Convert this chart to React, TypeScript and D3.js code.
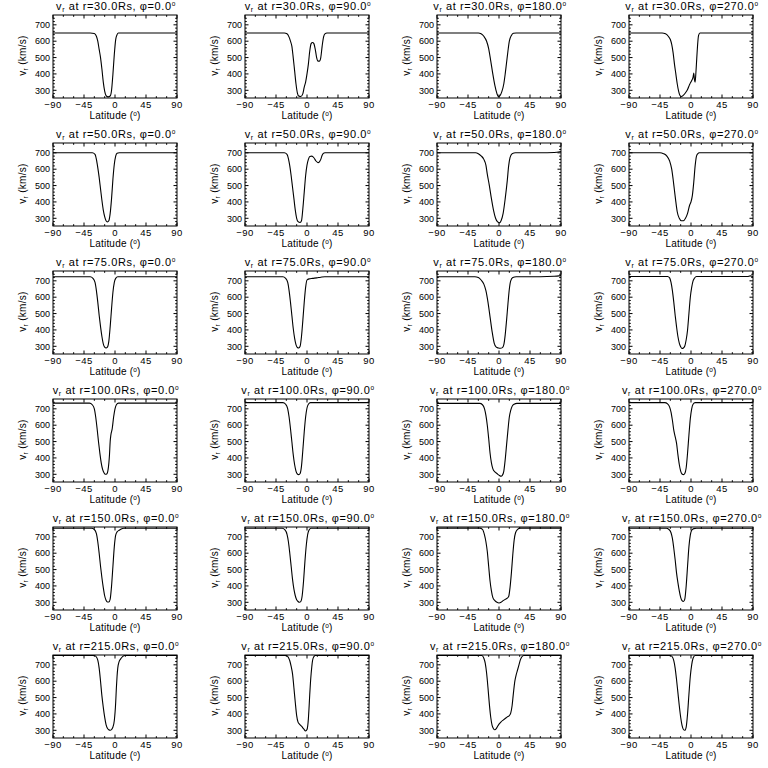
import React from "react";
import * as d3 from "d3";

type P = [number, number];

const radii = ["30.0", "50.0", "75.0", "100.0", "150.0", "215.0"];
const phis = ["0.0", "90.0", "180.0", "270.0"];
const xTicks = [-90, -45, 0, 45, 90];
const yTicks = [300, 400, 500, 600, 700];
const xMinor = [-75, -60, -30, -15, 15, 30, 60, 75];
const yMinor = [260, 280, 320, 340, 360, 380, 420, 440, 460, 480, 520, 540, 560, 580, 620, 640, 660, 680, 720, 740];
const xDomain: P = [-90, 90];
const yDomain: P = [253, 760];

// r = 30 Rs
const r30p0: P[] = [[-90,650],[-36,650],[-30,647],[-27,630],[-25,600],[-23,550],[-21,500],[-19,430],[-17,350],[-15,295],[-13,268],[-10,260],[-7,265],[-5,300],[-3,400],[-1,520],[1,610],[3,640],[5,650],[90,650]];
const r30p90: P[] = [[-90,650],[-33,650],[-29,645],[-26,625],[-24,600],[-22,570],[-20,500],[-18,420],[-16,340],[-14,285],[-12,265],[-9,262],[-6,280],[-4,320],[-2,350],[0,400],[2,460],[4,540],[6,585],[8,592],[10,585],[12,550],[14,500],[16,478],[18,478],[20,500],[22,570],[24,625],[26,645],[29,650],[90,650]];
const r30p180: P[] = [[-90,650],[-30,650],[-26,645],[-22,630],[-18,600],[-15,555],[-12,480],[-9,400],[-6,330],[-3,280],[-1,262],[1,265],[4,290],[7,340],[9,400],[11,470],[13,540],[15,600],[18,635],[21,648],[25,650],[90,650]];
const r30p270: P[] = [[-90,650],[-42,650],[-37,645],[-33,630],[-30,610],[-28,580],[-26,530],[-24,460],[-22,400],[-20,340],[-18,295],[-16,268],[-14,262],[-11,270],[-8,285],[-5,305],[-2,335],[1,360],[3,380],[4,405],[5,365],[6,350],[7,400],[8,470],[9,540],[10,600],[11,635],[13,650],[90,650]];

// r = 50 Rs
const r50p0: P[] = [[-90,700],[-33,700],[-29,690],[-27,660],[-25,610],[-23,550],[-21,480],[-19,410],[-17,350],[-15,310],[-13,285],[-11,278],[-9,285],[-7,330],[-5,420],[-3,540],[-1,630],[1,680],[3,697],[6,700],[90,700]];
const r50p90: P[] = [[-90,700],[-33,700],[-29,690],[-27,665],[-25,620],[-23,560],[-21,490],[-19,420],[-17,350],[-15,300],[-13,280],[-10,274],[-8,285],[-6,360],[-4,460],[-2,560],[0,625],[2,660],[4,678],[7,680],[10,670],[13,650],[16,640],[18,645],[20,660],[22,685],[24,698],[26,700],[90,700]];
const r50p180: P[] = [[-90,700],[-34,700],[-30,695],[-26,682],[-22,660],[-19,625],[-17,570],[-14,500],[-11,420],[-8,350],[-5,300],[-2,278],[1,272],[3,285],[6,330],[9,420],[12,530],[14,620],[16,670],[19,695],[24,700],[60,700],[80,702],[90,708]];
const r50p270: P[] = [[-90,700],[-45,700],[-40,695],[-35,680],[-31,650],[-28,600],[-26,540],[-24,470],[-22,400],[-20,340],[-17,300],[-14,285],[-11,285],[-8,300],[-5,330],[-2,380],[0,400],[2,440],[4,520],[6,620],[8,680],[10,695],[12,700],[90,700]];

// r = 75 Rs
const r75p0: P[] = [[-90,725],[-36,725],[-32,715],[-29,690],[-27,640],[-25,570],[-23,490],[-21,420],[-19,360],[-17,315],[-15,295],[-13,290],[-11,295],[-9,330],[-7,420],[-5,530],[-3,630],[-1,690],[1,715],[4,725],[90,725]];
const r75p90: P[] = [[-90,725],[-35,725],[-31,715],[-28,690],[-26,640],[-24,570],[-22,490],[-20,410],[-18,350],[-16,310],[-14,293],[-12,290],[-10,300],[-8,360],[-6,460],[-4,570],[-2,660],[0,705],[3,712],[8,715],[14,718],[20,722],[26,725],[90,725]];
const r75p180: P[] = [[-90,725],[-35,725],[-30,720],[-26,705],[-22,680],[-19,640],[-16,570],[-13,480],[-10,390],[-7,320],[-4,295],[-1,290],[2,288],[5,292],[7,310],[9,370],[11,460],[13,560],[15,650],[17,700],[20,720],[25,725],[60,725],[80,728],[90,732]];
const r75p270: P[] = [[-90,726],[-34,726],[-31,718],[-29,690],[-27,640],[-25,570],[-23,490],[-21,420],[-19,360],[-17,320],[-15,298],[-13,287],[-11,290],[-9,302],[-7,340],[-5,400],[-3,500],[-1,600],[1,660],[3,700],[5,716],[8,726],[82,726],[86,730],[90,726]];

// r = 100 Rs
const r100p0: P[] = [[-90,735],[-37,735],[-33,725],[-30,700],[-28,650],[-26,580],[-24,500],[-22,430],[-20,370],[-18,330],[-16,310],[-14,300],[-12,302],[-10,330],[-8,420],[-7,500],[-6,540],[-4,580],[-2,650],[0,700],[2,725],[5,735],[90,735]];
const r100p90: P[] = [[-90,738],[-35,738],[-31,728],[-28,700],[-26,650],[-24,580],[-22,500],[-20,420],[-18,360],[-16,320],[-14,302],[-12,298],[-10,305],[-8,350],[-6,450],[-4,560],[-2,650],[0,705],[2,728],[5,738],[90,738]];
const r100p180: P[] = [[-90,733],[-28,733],[-24,725],[-21,700],[-19,660],[-17,600],[-15,520],[-13,430],[-11,370],[-9,335],[-6,315],[-3,305],[0,295],[3,288],[5,295],[7,320],[9,390],[11,480],[13,570],[15,650],[17,690],[19,715],[22,728],[26,733],[90,733]];
const r100p270: P[] = [[-90,738],[-38,738],[-34,730],[-31,710],[-29,680],[-27,630],[-25,570],[-23,530],[-21,490],[-19,420],[-17,360],[-15,320],[-13,302],[-11,298],[-9,305],[-7,340],[-5,430],[-3,540],[-1,640],[1,700],[3,728],[6,738],[90,738]];

// r = 150 Rs
const r150p0: P[] = [[-90,752],[-34,752],[-30,745],[-27,720],[-25,670],[-23,600],[-21,520],[-19,450],[-17,390],[-15,340],[-13,312],[-11,302],[-9,302],[-7,320],[-5,400],[-3,520],[-1,640],[1,710],[3,730],[6,740],[9,748],[13,752],[90,752]];
const r150p90: P[] = [[-90,752],[-36,752],[-32,742],[-29,715],[-27,670],[-25,600],[-23,520],[-21,440],[-19,380],[-17,340],[-15,315],[-13,305],[-11,300],[-9,305],[-7,340],[-5,430],[-3,550],[-1,650],[1,715],[3,742],[6,752],[90,752]];
const r150p180: P[] = [[-90,753],[-28,753],[-24,745],[-21,710],[-19,670],[-17,610],[-15,520],[-13,430],[-11,370],[-9,330],[-6,310],[-3,300],[0,296],[3,300],[6,310],[9,318],[12,325],[14,335],[16,390],[18,480],[20,590],[22,680],[24,725],[27,745],[31,753],[90,753]];
const r150p270: P[] = [[-90,752],[-36,752],[-32,745],[-29,725],[-27,690],[-25,630],[-23,560],[-21,480],[-19,420],[-17,370],[-15,330],[-13,310],[-11,305],[-9,320],[-7,400],[-5,520],[-3,640],[-1,710],[1,740],[4,750],[8,752],[90,752]];

// r = 215 Rs
const r215p0: P[] = [[-90,757],[-30,757],[-27,748],[-25,728],[-23,680],[-21,600],[-19,510],[-17,440],[-15,380],[-13,335],[-11,312],[-9,303],[-7,300],[-5,305],[-3,320],[-1,360],[1,470],[2,560],[3,630],[4,680],[6,720],[8,735],[11,750],[14,757],[90,757]];
const r215p90: P[] = [[-90,757],[-30,757],[-27,745],[-25,725],[-23,690],[-21,645],[-19,560],[-17,470],[-15,390],[-13,350],[-11,338],[-8,325],[-5,310],[-2,296],[0,305],[2,370],[3,440],[4,520],[5,590],[6,645],[7,690],[8,725],[10,750],[12,757],[90,757]];
const r215p180: P[] = [[-90,757],[-25,757],[-22,740],[-20,710],[-18,650],[-16,560],[-14,460],[-12,380],[-10,330],[-8,310],[-6,303],[-4,310],[-2,325],[0,338],[3,352],[6,362],[9,372],[12,382],[15,390],[17,405],[19,450],[21,530],[23,600],[25,640],[27,670],[29,700],[31,730],[33,748],[36,757],[90,757]];
const r215p270: P[] = [[-90,757],[-30,757],[-27,748],[-25,725],[-23,680],[-21,610],[-19,530],[-17,450],[-15,380],[-13,330],[-11,305],[-9,300],[-7,320],[-5,400],[-3,520],[-1,630],[1,700],[3,740],[6,757],[90,757]];

const series: P[][][] = [
  [r30p0, r30p90, r30p180, r30p270],
  [r50p0, r50p90, r50p180, r50p270],
  [r75p0, r75p90, r75p180, r75p270],
  [r100p0, r100p90, r100p180, r100p270],
  [r150p0, r150p90, r150p180, r150p270],
  [r215p0, r215p90, r215p180, r215p270],
];

const W = 768;
const H = 768;
const cellW = 192;
const cellH = 128;
const plotL = 53;
const plotR = 177;
const plotT = 15;
const plotB = 98;
const FONT = "'Liberation Sans', Arial, sans-serif";

function Panel({ data, r, phi }: { data: P[]; r: string; phi: string }) {
  const x = d3.scaleLinear().domain(xDomain).range([plotL, plotR]);
  const y = d3.scaleLinear().domain(yDomain).range([plotB, plotT]);
  const line = d3
    .line<P>()
    .x((d) => x(d[0]))
    .y((d) => y(d[1]))
    .curve(d3.curveMonotoneX);
  const cx = (plotL + plotR) / 2;
  const cy = (plotT + plotB) / 2;
  const majorLen = 3.5;
  const minorLen = 1.8;
  return (
    <g>
      <defs>
        <clipPath id={`clip-${r}-${phi}`}>
          <rect x={plotL} y={plotT - 1} width={plotR - plotL} height={plotB - plotT + 2} />
        </clipPath>
      </defs>
      <text x={cx + 1} y={10} textAnchor="middle" fontSize={11} letterSpacing={0.6} fontFamily={FONT} fill="#000">
        <tspan>v</tspan>
        <tspan fontSize={7} dy={2}>r</tspan>
        <tspan dy={-2}>{` at r=${r}Rs, `}</tspan>
        <tspan fill="#000">φ</tspan>
        <tspan>{`=${phi}`}</tspan>
        <tspan fontSize={6.5} dy={-4}>o</tspan>
      </text>
      <path
        d={line(data) || ""}
        fill="none"
        stroke="#000"
        strokeWidth={1.1}
        clipPath={`url(#clip-${r}-${phi})`}
      />
      <rect x={plotL} y={plotT} width={plotR - plotL} height={plotB - plotT} fill="none" stroke="#000" strokeWidth={1} />
      {xTicks.map((t) => (
        <g key={`xt${t}`}>
          <line x1={x(t)} x2={x(t)} y1={plotB} y2={plotB - majorLen} stroke="#000" />
          <line x1={x(t)} x2={x(t)} y1={plotT} y2={plotT + majorLen} stroke="#000" />
          <text x={x(t)} y={108} textAnchor="middle" fontSize={9.5} letterSpacing={0.4} fontFamily={FONT}>
            {t < 0 ? `−${Math.abs(t)}` : `${t}`}
          </text>
        </g>
      ))}
      {xMinor.map((t) => (
        <g key={`xm${t}`}>
          <line x1={x(t)} x2={x(t)} y1={plotB} y2={plotB - minorLen} stroke="#000" />
          <line x1={x(t)} x2={x(t)} y1={plotT} y2={plotT + minorLen} stroke="#000" />
        </g>
      ))}
      {yTicks.map((t) => (
        <g key={`yt${t}`}>
          <line x1={plotL} x2={plotL + majorLen} y1={y(t)} y2={y(t)} stroke="#000" />
          <line x1={plotR} x2={plotR - majorLen} y1={y(t)} y2={y(t)} stroke="#000" />
          <text x={50} y={y(t) + 3.2} textAnchor="end" fontSize={9} fontFamily={FONT}>
            {t}
          </text>
        </g>
      ))}
      {yMinor.map((t) => (
        <g key={`ym${t}`}>
          <line x1={plotL} x2={plotL + minorLen} y1={y(t)} y2={y(t)} stroke="#000" />
          <line x1={plotR} x2={plotR - minorLen} y1={y(t)} y2={y(t)} stroke="#000" />
        </g>
      ))}
      <text
        transform={`translate(26,${cy - 1}) rotate(-90)`}
        textAnchor="middle"
        fontSize={10}
        letterSpacing={0.3}
        fontFamily={FONT}
      >
        <tspan>v</tspan>
        <tspan fontSize={6.5} dy={2}>r</tspan>
        <tspan dy={-2}> (km/s)</tspan>
      </text>
      <text x={cx} y={119} textAnchor="middle" fontSize={10} letterSpacing={0.2} fontFamily={FONT}>
        <tspan>Latitude (</tspan>
        <tspan fontSize={6.5} dy={-3}>o</tspan>
        <tspan dy={3}>)</tspan>
      </text>
    </g>
  );
}

export default function App() {
  return (
    <div style={{ position: "absolute", left: 0, top: 0, width: W, height: H, background: "#fff" }}>
      <svg width={W} height={H} viewBox={`0 0 ${W} ${H}`} style={{ display: "block" }}>
        <rect x={0} y={0} width={W} height={H} fill="#fff" />
        {series.map((row, ri) =>
          row.map((data, ci) => (
            <g key={`${ri}-${ci}`} transform={`translate(${ci * cellW},${ri * cellH})`}>
              <Panel data={data} r={radii[ri]} phi={phis[ci]} />
            </g>
          ))
        )}
      </svg>
    </div>
  );
}
